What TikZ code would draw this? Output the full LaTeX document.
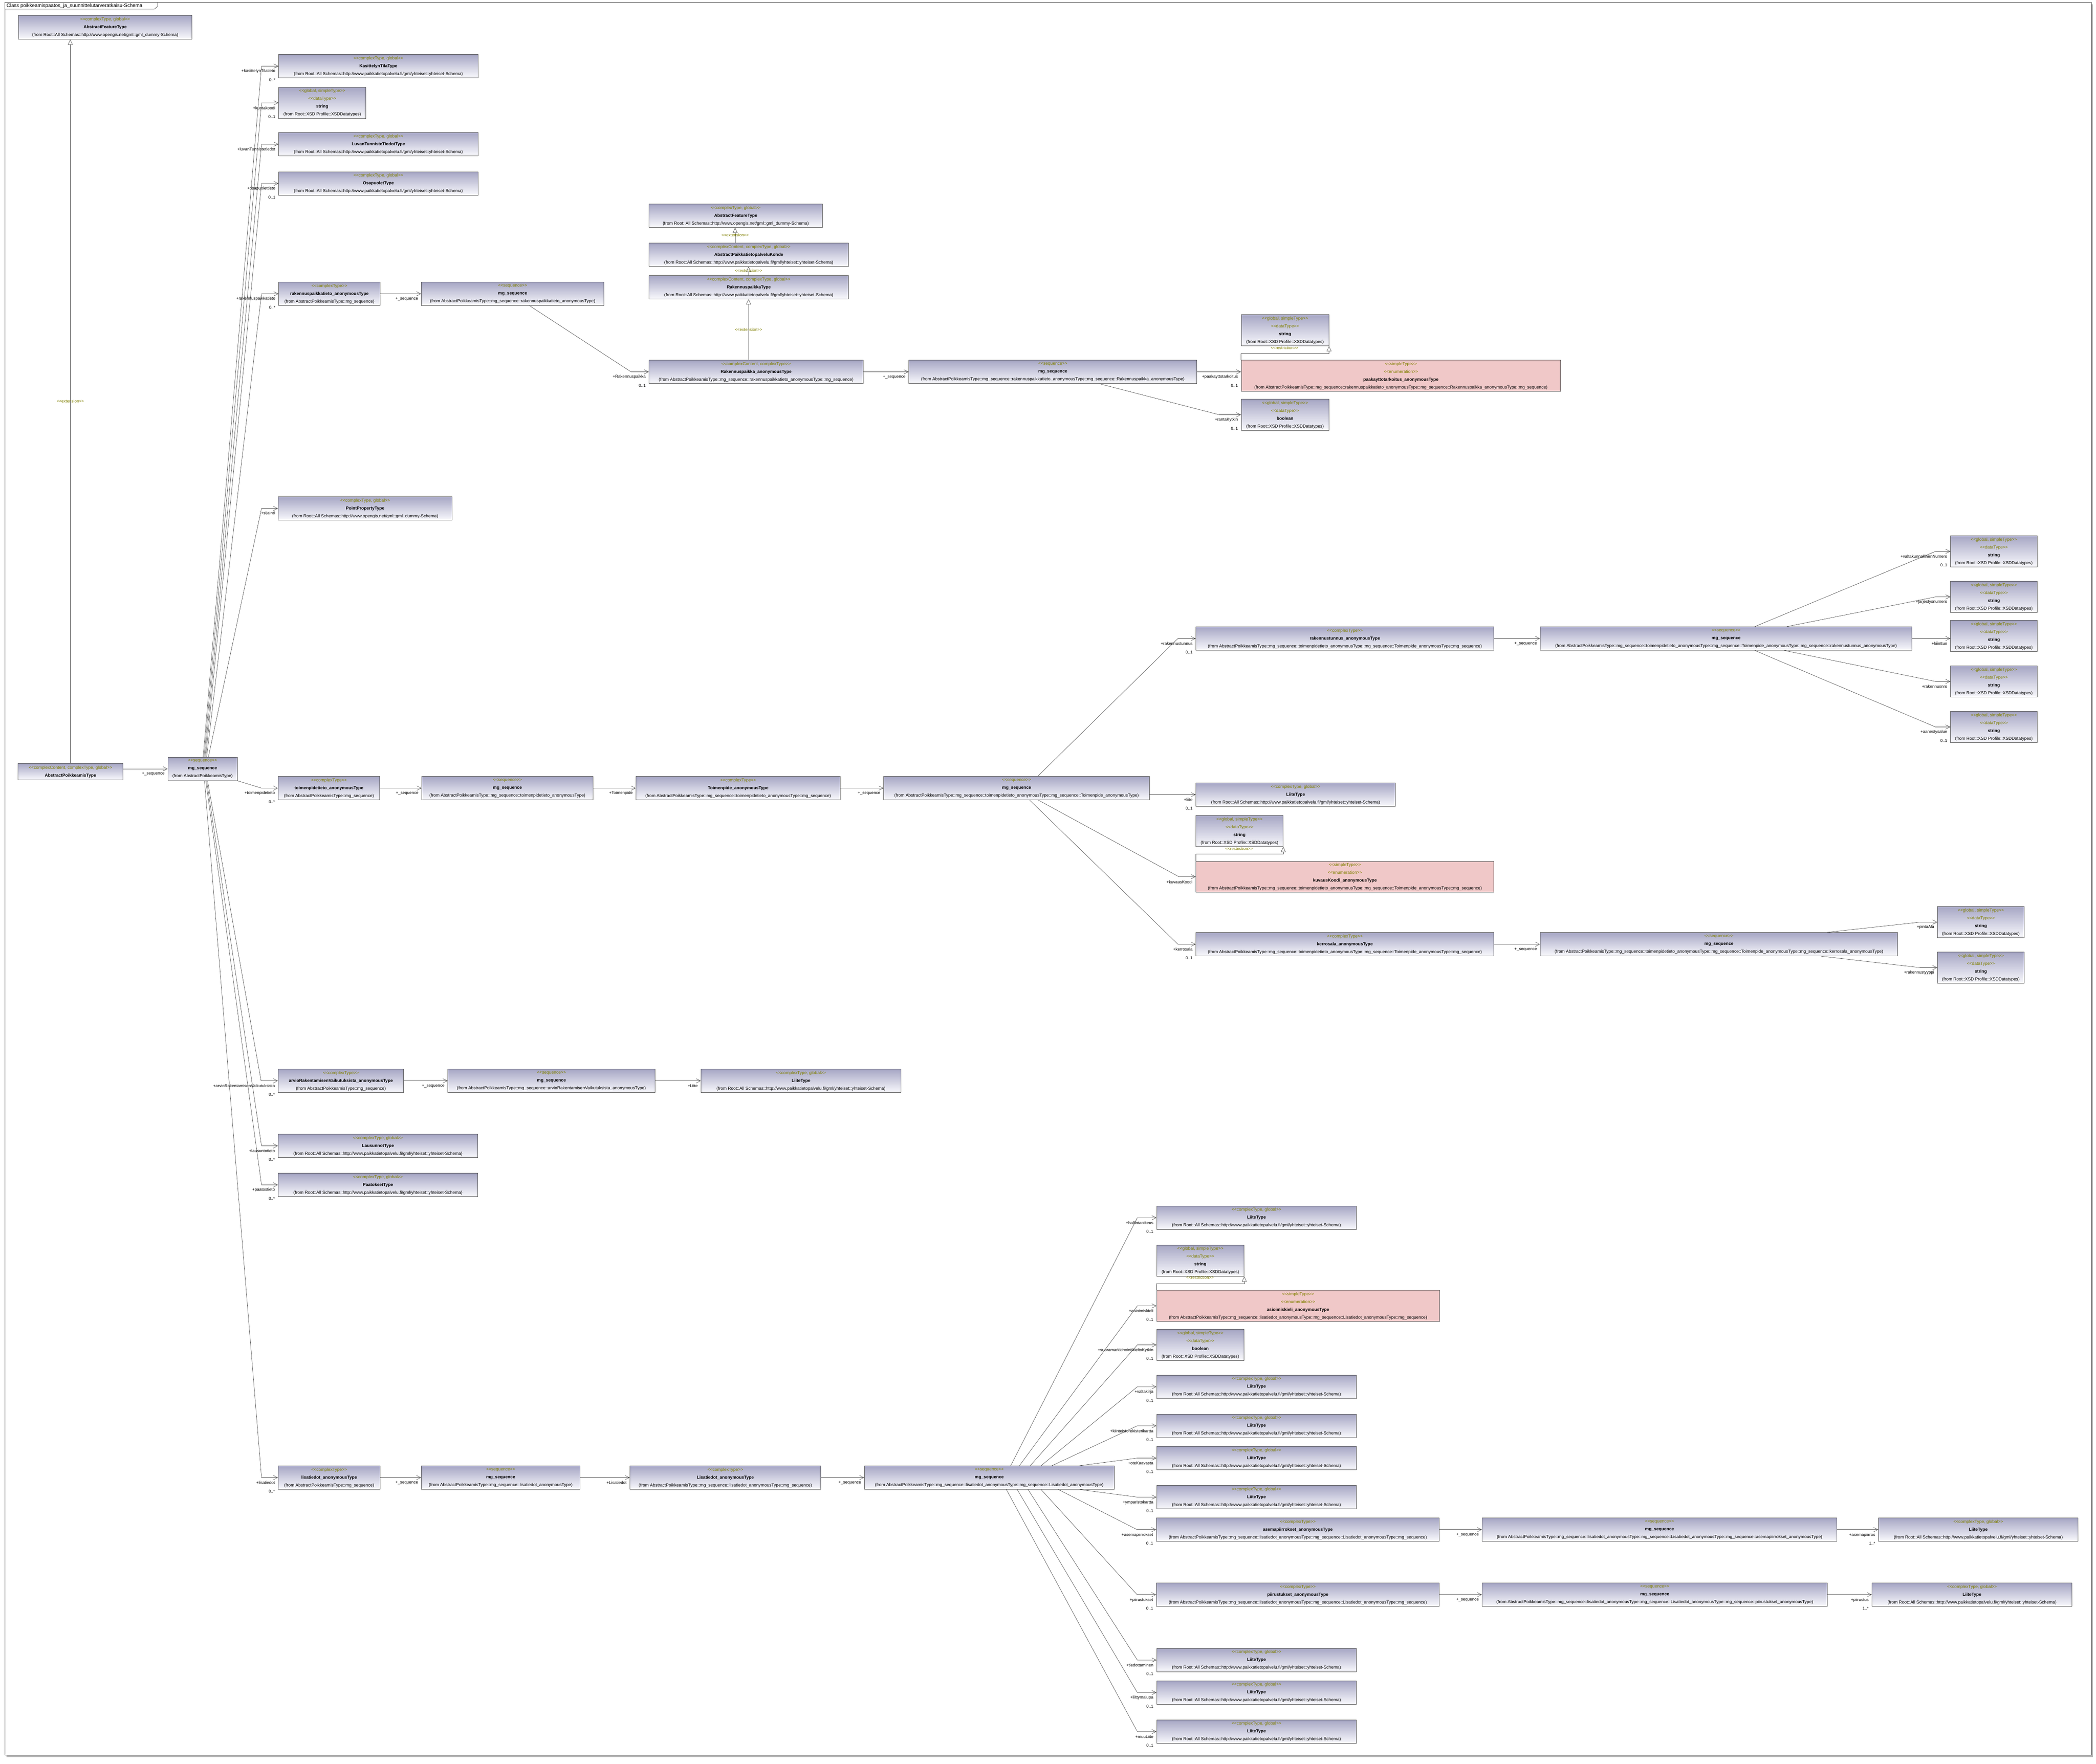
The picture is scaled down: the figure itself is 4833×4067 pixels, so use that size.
\documentclass[tikz,border=0pt]{standalone}
\usepackage{fontspec}
\newfontfamily\uf{Liberation Sans}[Ligatures=TeXOff]
\usetikzlibrary{arrows.meta,calc}
\definecolor{boxtop}{RGB}{166,166,196}
\definecolor{boxbot}{RGB}{249,249,253}
\definecolor{enumfill}{RGB}{240,200,200}
\definecolor{stereo}{RGB}{128,128,0}
\definecolor{bordc}{RGB}{85,85,85}
\definecolor{linec}{RGB}{70,70,70}
\newcommand\ster[1]{\textcolor{stereo}{<\kern0pt<#1>\kern0pt>}}
\newcommand\bname[1]{\textbf{#1}}
\newcommand\fyht{(from Root::All Schemas::http://www.paikkatietopalvelu.fi/gml/yhteiset::yhteiset-Schema)}
\newcommand\fgml{(from Root::All Schemas::http://www.opengis.net/gml::gml\_dummy-Schema)}
\newcommand\fxsd{(from Root::XSD Profile::XSDDatatypes)}
\newcommand\fap{AbstractPoikkeamisType::mg\_sequence}
\newcommand\mkbox[6]{\node[cbox, minimum width=#4pt, minimum height=#5pt] (#1) at (#2,#3) {#6};}
\newcommand\mkenum[6]{\node[ebox, minimum width=#4pt, minimum height=#5pt] (#1) at (#2,#3) {#6};}
\newcommand\liitetxt{\ster{complexType, global}\\\bname{LiiteType}\\\fyht}
\newcommand\strtxt{\ster{global, simpleType}\\\ster{dataType}\\\bname{string}\\\fxsd}
\newcommand\booltxt{\ster{global, simpleType}\\\ster{dataType}\\\bname{boolean}\\\fxsd}
\newcommand\rolelab[3]{\node[role] (#1) at ([shift={(-7pt,-12pt)}]#2) {#3};}
\newcommand\multlab[3]{\node[role] (#1) at ([shift={(-7pt,-32pt)}]#2) {#3};}
\tikzset{
  bx/.style={draw=bordc, line width=1pt, inner sep=0pt, align=center, anchor=north west,
    font=\uf\fontsize{10}{18}\selectfont, text=black},
  cbox/.style={bx, top color=boxtop, bottom color=boxbot},
  ebox/.style={bx, fill=enumfill},
  assoc/.style={draw=linec, line width=0.7pt, -{Straight Barb[length=10pt,width=10pt]}},
  genl/.style={draw=linec, line width=0.7pt, -{Triangle[open,length=12pt,width=11pt,fill=white]}},
  role/.style={font=\uf\fontsize{9.5}{11}\selectfont, inner sep=0pt, anchor=east, text=black},
  stlab/.style={font=\uf\fontsize{9.5}{11}\selectfont, inner sep=0pt, text=stereo},
}
\begin{document}
\begin{tikzpicture}[x=1pt,y=-1pt]
\useasboundingbox (0,0) rectangle (4833,4067);
% frame with shadow
\fill[gray!55] (15,9.5) rectangle (4826,4052);
\draw[fill=white, draw=black!70, line width=1pt] (11,5.5) rectangle (4822,4047);
\draw[fill=white, draw=black!70, line width=0.8pt] (11,5.5) -- (363,5.5) -- (363,15) -- (356,21) -- (11,21) -- cycle;
\node[font=\uf\fontsize{11.5}{13}\selectfont, anchor=west, inner sep=0pt] (title) at (15,13.5) {Class poikkeamispaatos\_ja\_suunnittelutarveratkaisu-Schema};

% ---------- boxes ----------
\mkbox{aft1}{42}{35}{400}{55}{\ster{complexType, global}\\\bname{AbstractFeatureType}\\\fgml}
\mkbox{kas}{642}{125}{460}{54}{\ster{complexType, global}\\\bname{KasittelynTilaType}\\\fyht}
\mkbox{kun}{642}{200.6}{201}{72}{\strtxt}
\mkbox{luv}{642}{305}{460}{54}{\ster{complexType, global}\\\bname{LuvanTunnisteTiedotType}\\\fyht}
\mkbox{osa}{642}{395.5}{460}{54}{\ster{complexType, global}\\\bname{OsapuoletType}\\\fyht}
\mkbox{rpt}{642}{650}{234}{54}{\ster{complexType}\\\bname{rakennuspaikkatieto\_anonymousType}\\(from \fap)}
\mkbox{rptseq}{971}{650}{421}{54}{\ster{sequence}\\\bname{mg\_sequence}\\(from \fap::rakennuspaikkatieto\_anonymousType)}
\mkbox{aft2}{1496}{470}{400}{54}{\ster{complexType, global}\\\bname{AbstractFeatureType}\\\fgml}
\mkbox{apk}{1496}{560}{460}{54}{\ster{complexContent, complexType, global}\\\bname{AbstractPaikkatietopalveluKohde}\\\fyht}
\mkbox{rpty}{1496}{635}{460}{54}{\ster{complexContent, complexType, global}\\\bname{RakennuspaikkaType}\\\fyht}
\mkbox{rpa}{1496}{830}{494}{54}{\ster{complexContent, complexType}\\\bname{Rakennuspaikka\_anonymousType}\\(from \fap::rakennuspaikkatieto\_anonymousType::mg\_sequence)}
\mkbox{rpaseq}{2095}{830}{664}{54}{\ster{sequence}\\\bname{mg\_sequence}\\(from \fap::rakennuspaikkatieto\_anonymousType::mg\_sequence::Rakennuspaikka\_anonymousType)}
\mkbox{strb}{2861.5}{725}{202}{72}{\strtxt}
\mkenum{pak}{2861.5}{830}{736.5}{72}{\ster{simpleType}\\\ster{enumeration}\\\bname{paakayttotarkoitus\_anonymousType}\\(from \fap::rakennuspaikkatieto\_anonymousType::mg\_sequence::Rakennuspaikka\_anonymousType::mg\_sequence)}
\mkbox{boolr}{2861.5}{920}{202}{72}{\booltxt}
\mkbox{ppt}{641}{1145}{401}{54}{\ster{complexType, global}\\\bname{PointPropertyType}\\\fgml}
\mkbox{apt}{41}{1760}{242}{38}{\ster{complexContent, complexType, global}\\\bname{AbstractPoikkeamisType}}
\mkbox{mseq}{386.5}{1745.5}{160}{54}{\ster{sequence}\\\bname{mg\_sequence}\\(from AbstractPoikkeamisType)}
\mkbox{tpt}{641}{1790}{234}{54}{\ster{complexType}\\\bname{toimenpidetieto\_anonymousType}\\(from \fap)}
\mkbox{tptseq}{972}{1790}{395}{54}{\ster{sequence}\\\bname{mg\_sequence}\\(from \fap::toimenpidetieto\_anonymousType)}
\mkbox{tpa}{1466}{1790}{471}{54}{\ster{complexType}\\\bname{Toimenpide\_anonymousType}\\(from \fap::toimenpidetieto\_anonymousType::mg\_sequence)}
\mkbox{tpaseq}{2037}{1790}{613}{54}{\ster{sequence}\\\bname{mg\_sequence}\\(from \fap::toimenpidetieto\_anonymousType::mg\_sequence::Toimenpide\_anonymousType)}
\mkbox{rtu}{2757}{1445}{687}{54}{\ster{complexType}\\\bname{rakennustunnus\_anonymousType}\\(from \fap::toimenpidetieto\_anonymousType::mg\_sequence::Toimenpide\_anonymousType::mg\_sequence)}
\mkbox{rtuseq}{3551}{1445}{857}{54}{\ster{sequence}\\\bname{mg\_sequence}\\(from \fap::toimenpidetieto\_anonymousType::mg\_sequence::Toimenpide\_anonymousType::mg\_sequence::rakennustunnus\_anonymousType)}
\mkbox{sa}{4497}{1235}{200}{72}{\strtxt}
\mkbox{sb}{4497}{1340}{200}{72}{\strtxt}
\mkbox{sc}{4497}{1430}{200}{72}{\strtxt}
\mkbox{sd}{4497}{1535}{200}{72}{\strtxt}
\mkbox{se}{4497}{1640}{200}{72}{\strtxt}
\mkbox{liitea}{2757}{1805}{460}{54}{\liitetxt}
\mkbox{strk}{2757}{1880}{201}{72}{\strtxt}
\mkenum{kuv}{2757}{1985.7}{687}{71}{\ster{simpleType}\\\ster{enumeration}\\\bname{kuvausKoodi\_anonymousType}\\(from \fap::toimenpidetieto\_anonymousType::mg\_sequence::Toimenpide\_anonymousType::mg\_sequence)}
\mkbox{ker}{2757}{2150}{687}{54}{\ster{complexType}\\\bname{kerrosala\_anonymousType}\\(from \fap::toimenpidetieto\_anonymousType::mg\_sequence::Toimenpide\_anonymousType::mg\_sequence)}
\mkbox{kerseq}{3551}{2150}{824}{54}{\ster{sequence}\\\bname{mg\_sequence}\\(from \fap::toimenpidetieto\_anonymousType::mg\_sequence::Toimenpide\_anonymousType::mg\_sequence::kerrosala\_anonymousType)}
\mkbox{spa}{4467}{2090}{200}{72}{\strtxt}
\mkbox{srt}{4467}{2195}{200}{72}{\strtxt}
\mkbox{arv}{641}{2465}{289}{54}{\ster{complexType}\\\bname{arvioRakentamisenVaikutuksista\_anonymousType}\\(from \fap)}
\mkbox{arvseq}{1032}{2465}{478}{54}{\ster{sequence}\\\bname{mg\_sequence}\\(from \fap::arvioRakentamisenVaikutuksista\_anonymousType)}
\mkbox{liiteb}{1616}{2465}{461}{54}{\liitetxt}
\mkbox{lau}{641}{2615}{460}{54}{\ster{complexType, global}\\\bname{LausunnotType}\\\fyht}
\mkbox{paa}{641}{2705}{460}{54}{\ster{complexType, global}\\\bname{PaatoksetType}\\\fyht}
\mkbox{lis}{641}{3380}{235}{54}{\ster{complexType}\\\bname{lisatiedot\_anonymousType}\\(from \fap)}
\mkbox{lisseq}{971}{3380}{366}{54}{\ster{sequence}\\\bname{mg\_sequence}\\(from \fap::lisatiedot\_anonymousType)}
\mkbox{lisa}{1452}{3380}{440}{54}{\ster{complexType}\\\bname{Lisatiedot\_anonymousType}\\(from \fap::lisatiedot\_anonymousType::mg\_sequence)}
\mkbox{lisaseq}{1992.5}{3380}{576}{54}{\ster{sequence}\\\bname{mg\_sequence}\\(from \fap::lisatiedot\_anonymousType::mg\_sequence::Lisatiedot\_anonymousType)}
\mkbox{hal}{2666.5}{2780.7}{460.5}{54}{\liitetxt}
\mkbox{stra}{2666.5}{2870.6}{201.5}{72}{\strtxt}
\mkenum{asi}{2666.5}{2975}{652}{72}{\ster{simpleType}\\\ster{enumeration}\\\bname{asioimiskieli\_anonymousType}\\(from \fap::lisatiedot\_anonymousType::mg\_sequence::Lisatiedot\_anonymousType::mg\_sequence)}
\mkbox{boolb}{2666.5}{3065}{201.5}{72}{\booltxt}
\mkbox{val}{2666.5}{3170.5}{460.5}{54}{\liitetxt}
\mkbox{kii}{2666.5}{3260.5}{460.5}{54}{\liitetxt}
\mkbox{ote}{2666.5}{3335}{460.5}{54}{\liitetxt}
\mkbox{ymp}{2666.5}{3425}{460.5}{54}{\liitetxt}
\mkbox{ase}{2666}{3500}{652}{54}{\ster{complexType}\\\bname{asemapiirrokset\_anonymousType}\\(from \fap::lisatiedot\_anonymousType::mg\_sequence::Lisatiedot\_anonymousType::mg\_sequence)}
\mkbox{aseseq}{3417}{3500}{818}{54}{\ster{sequence}\\\bname{mg\_sequence}\\(from \fap::lisatiedot\_anonymousType::mg\_sequence::Lisatiedot\_anonymousType::mg\_sequence::asemapiirrokset\_anonymousType)}
\mkbox{aseli}{4331}{3500}{460}{54}{\liitetxt}
\mkbox{pii}{2666}{3650}{652}{54}{\ster{complexType}\\\bname{piirustukset\_anonymousType}\\(from \fap::lisatiedot\_anonymousType::mg\_sequence::Lisatiedot\_anonymousType::mg\_sequence)}
\mkbox{piiseq}{3417}{3650}{796}{54}{\ster{sequence}\\\bname{mg\_sequence}\\(from \fap::lisatiedot\_anonymousType::mg\_sequence::Lisatiedot\_anonymousType::mg\_sequence::piirustukset\_anonymousType)}
\mkbox{piili}{4316}{3650}{461}{54}{\liitetxt}
\mkbox{tie}{2666.5}{3800.7}{460.5}{54}{\liitetxt}
\mkbox{lii}{2666.5}{3875.7}{460.5}{54}{\liitetxt}
\mkbox{muu}{2666.5}{3965.7}{460.5}{54}{\liitetxt}

% ---------- generalizations / restrictions ----------
\draw[genl] ([xshift=121pt]apt.north west) -- ([xshift=121pt]apt.north west |- aft1.south);
\node[stlab] (ext1) at (162,925) {\ster{extension}};
\draw[genl] ([xshift=199pt]apk.north west) -- ([xshift=199pt]apk.north west |- aft2.south);
\node[stlab] (ext2) at (1695,542) {\ster{extension}};
\draw[genl] ([xshift=230pt]rpty.north west) -- ([xshift=230pt]rpty.north west |- apk.south);
\node[stlab] (ext3) at (1726,624) {\ster{extension}};
\draw[genl] ([xshift=230pt]rpa.north west) -- ([xshift=230pt]rpa.north west |- rpty.south);
\node[stlab] (ext4) at (1726,760) {\ster{extension}};

\coordinate (rb) at ([yshift=-17pt]strb.south east);
\draw[genl] (pak.north west) |- (rb) -- (strb.south east);
\node[stlab] (res1) at (2962,802) {\ster{restriction}};
\coordinate (rk) at ([yshift=-16pt]strk.south east);
\draw[genl] (kuv.north west) |- (rk) -- (strk.south east);
\node[stlab] (res2) at (2857,1957) {\ster{restriction}};
\coordinate (ra) at ([yshift=-17pt]stra.south east);
\draw[genl] (asi.north west) |- (ra) -- (stra.south east);
\node[stlab] (res3) at (2767,2946) {\ster{restriction}};

% ---------- main fan ----------
\draw[assoc] (apt.east |- mseq.west) -- (mseq.west);
\rolelab{lmseq}{mseq.west}{+\_sequence}
\draw[assoc] ([xshift=82pt]mseq.north west) -- ([xshift=-39pt]kas.west) -- (kas.west);
\rolelab{lkas}{kas.west}{+kasittelynTilatieto}\multlab{mkas}{kas.west}{0..*}
\draw[assoc] ([xshift=84pt]mseq.north west) -- ([xshift=-39pt]kun.west) -- (kun.west);
\rolelab{lkun}{kun.west}{+kuntakoodi}\multlab{mkun}{kun.west}{0..1}
\draw[assoc] ([xshift=86pt]mseq.north west) -- ([xshift=-39pt]luv.west) -- (luv.west);
\rolelab{lluv}{luv.west}{+luvanTunnistetiedot}
\draw[assoc] ([xshift=88pt]mseq.north west) -- ([xshift=-39pt]osa.west) -- (osa.west);
\rolelab{losa}{osa.west}{+osapuolettieto}\multlab{mosa}{osa.west}{0..1}
\draw[assoc] ([xshift=90pt]mseq.north west) -- ([xshift=-39pt]rpt.west) -- (rpt.west);
\rolelab{lrpt}{rpt.west}{+rakennuspaikkatieto}\multlab{mrpt}{rpt.west}{0..*}
\draw[assoc] ([xshift=94pt]mseq.north west) -- ([xshift=-38pt]ppt.west) -- (ppt.west);
\rolelab{lppt}{ppt.west}{+sijainti}
\draw[assoc] (mseq.south east) -- ([xshift=-38pt]tpt.west) -- (tpt.west);
\rolelab{ltpt}{tpt.west}{+toimenpidetieto}\multlab{mtpt}{tpt.west}{0..*}
\draw[assoc] ([xshift=92pt]mseq.south west) -- ([xshift=-39pt]arv.west) -- (arv.west);
\rolelab{larv}{arv.west}{+arvioRakentamisenVaikutuksista}\multlab{marv}{arv.west}{0..*}
\draw[assoc] ([xshift=90pt]mseq.south west) -- ([xshift=-38pt]lau.west) -- (lau.west);
\rolelab{llau}{lau.west}{+lausuntotieto}\multlab{mlau}{lau.west}{0..*}
\draw[assoc] ([xshift=88pt]mseq.south west) -- ([xshift=-38pt]paa.west) -- (paa.west);
\rolelab{lpaa}{paa.west}{+paatostieto}\multlab{mpaa}{paa.west}{0..*}
\draw[assoc] ([xshift=85pt]mseq.south west) -- ([xshift=-38pt]lis.west) -- (lis.west);
\rolelab{llis}{lis.west}{+lisatiedot}\multlab{mlis}{lis.west}{0..*}

% ---------- rakennuspaikka ----------
\draw[assoc] (rpt.east) -- (rptseq.west);
\rolelab{lrptseq}{rptseq.west}{+\_sequence}
\draw[assoc] ([xshift=250pt]rptseq.south west) -- ([xshift=-41pt]rpa.west) -- (rpa.west);
\rolelab{lrpa}{rpa.west}{+Rakennuspaikka}\multlab{mrpa}{rpa.west}{0..1}
\draw[assoc] (rpa.east) -- (rpaseq.west);
\rolelab{lrpaseq}{rpaseq.west}{+\_sequence}
\coordinate (pakin) at (rpaseq.east -| pak.west);
\draw[assoc] (rpaseq.east) -- (pakin);
\rolelab{lpak}{pakin}{+paakayttotarkoitus}\multlab{mpak}{pakin}{0..1}
\draw[assoc] ([xshift=440pt]rpaseq.south west) -- ([xshift=-50pt]boolr.west) -- (boolr.west);
\rolelab{lboolr}{boolr.west}{+rantaKytkin}\multlab{mboolr}{boolr.west}{0..1}

% ---------- toimenpide ----------
\draw[assoc] (tpt.east) -- (tptseq.west);
\rolelab{ltptseq}{tptseq.west}{+\_sequence}
\draw[assoc] (tptseq.east) -- (tpa.west);
\rolelab{ltpa}{tpa.west}{+Toimenpide}
\draw[assoc] (tpa.east) -- (tpaseq.west);
\rolelab{ltpaseq}{tpaseq.west}{+\_sequence}
\draw[assoc] ([xshift=356pt]tpaseq.north west) -- ([xshift=-41pt]rtu.west) -- (rtu.west);
\rolelab{lrtu}{rtu.west}{+rakennustunnus}\multlab{mrtu}{rtu.west}{0..1}
\draw[assoc] (tpaseq.east |- liitea.west) -- (liitea.west);
\rolelab{lliitea}{liitea.west}{+liite}\multlab{mliitea}{liitea.west}{0..1}
\draw[assoc] ([xshift=357pt]tpaseq.south west) -- ([xshift=-39pt]kuv.west) -- (kuv.west);
\rolelab{lkuv}{kuv.west}{+kuvausKoodi}
\draw[assoc] ([xshift=337pt]tpaseq.south west) -- ([xshift=-41pt]ker.west) -- (ker.west);
\rolelab{lker}{ker.west}{+kerrosala}\multlab{mker}{ker.west}{0..1}

\draw[assoc] (rtu.east) -- (rtuseq.west);
\rolelab{lrtuseq}{rtuseq.west}{+\_sequence}
\draw[assoc] ([xshift=495pt]rtuseq.north west) -- ([xshift=-34pt]sa.west) -- (sa.west);
\rolelab{lsa}{sa.west}{+valtakunnallinenNumero}\multlab{msa}{sa.west}{0..1}
\draw[assoc] ([xshift=569pt]rtuseq.north west) -- ([xshift=-34pt]sb.west) -- (sb.west);
\rolelab{lsb}{sb.west}{+jarjestysnumero}
\coordinate (scin) at (rtuseq.east -| sc.west);
\draw[assoc] (rtuseq.east) -- (scin);
\rolelab{lsc}{scin}{+kiinttun}
\draw[assoc] ([xshift=563pt]rtuseq.south west) -- ([xshift=-34pt]sd.west) -- (sd.west);
\rolelab{lsd}{sd.west}{+rakennusnro}
\draw[assoc] ([xshift=495pt]rtuseq.south west) -- ([xshift=-34pt]se.west) -- (se.west);
\rolelab{lse}{se.west}{+aanestysalue}\multlab{mse}{se.west}{0..1}

\draw[assoc] (ker.east) -- (kerseq.west);
\rolelab{lkerseq}{kerseq.west}{+\_sequence}
\draw[assoc] ([xshift=662pt]kerseq.north west) -- ([xshift=-39pt]spa.west) -- (spa.west);
\rolelab{lspa}{spa.west}{+pintaAla}
\draw[assoc] ([xshift=648pt]kerseq.south west) -- ([xshift=-39pt]srt.west) -- (srt.west);
\rolelab{lsrt}{srt.west}{+rakennustyyppi}

% ---------- arvio ----------
\draw[assoc] (arv.east) -- (arvseq.west);
\rolelab{larvseq}{arvseq.west}{+\_sequence}
\draw[assoc] (arvseq.east) -- (liiteb.west);
\rolelab{lliiteb}{liiteb.west}{+Liite}

% ---------- lisatiedot ----------
\draw[assoc] (lis.east) -- (lisseq.west);
\rolelab{llisseq}{lisseq.west}{+\_sequence}
\draw[assoc] (lisseq.east) -- (lisa.west);
\rolelab{llisa}{lisa.west}{+Lisatiedot}
\draw[assoc] (lisa.east) -- (lisaseq.west);
\rolelab{llisaseq}{lisaseq.west}{+\_sequence}

\draw[assoc] ([xshift=338pt]lisaseq.north west) -- ([xshift=-44pt]hal.west) -- (hal.west);
\rolelab{lhal}{hal.west}{+hallintaoikeus}\multlab{mhal}{hal.west}{0..1}
\draw[assoc] ([xshift=358pt]lisaseq.north west) -- ([xshift=-44pt]asi.west) -- (asi.west);
\rolelab{lasi}{asi.west}{+asioimiskieli}\multlab{masi}{asi.west}{0..1}
\draw[assoc] ([xshift=383pt]lisaseq.north west) -- ([xshift=-44pt]boolb.west) -- (boolb.west);
\rolelab{lboolb}{boolb.west}{+suoramarkkinointikieltoKytkin}\multlab{mboolb}{boolb.west}{0..1}
\draw[assoc] ([xshift=408pt]lisaseq.north west) -- ([xshift=-44pt]val.west) -- (val.west);
\rolelab{lval}{val.west}{+valtakirja}\multlab{mval}{val.west}{0..1}
\draw[assoc] ([xshift=433pt]lisaseq.north west) -- ([xshift=-44pt]kii.west) -- (kii.west);
\rolelab{lkii}{kii.west}{+kiinteistorekisterikartta}\multlab{mkii}{kii.west}{0..1}
\draw[assoc] ([xshift=497pt]lisaseq.north west) -- ([xshift=-44pt]ote.west) -- (ote.west);
\rolelab{lote}{ote.west}{+oteKaavasta}\multlab{mote}{ote.west}{0..1}
\draw[assoc] ([xshift=497pt]lisaseq.south west) -- ([xshift=-44pt]ymp.west) -- (ymp.west);
\rolelab{lymp}{ymp.west}{+ymparistokartta}\multlab{mymp}{ymp.west}{0..1}
\draw[assoc] ([xshift=448pt]lisaseq.south west) -- ([xshift=-44pt]ase.west) -- (ase.west);
\rolelab{lase}{ase.west}{+asemapiirrokset}\multlab{mase}{ase.west}{0..1}
\draw[assoc] ([xshift=408pt]lisaseq.south west) -- ([xshift=-44pt]pii.west) -- (pii.west);
\rolelab{lpii}{pii.west}{+piirustukset}\multlab{mpii}{pii.west}{0..1}
\draw[assoc] ([xshift=378pt]lisaseq.south west) -- ([xshift=-44pt]tie.west) -- (tie.west);
\rolelab{ltie}{tie.west}{+tiedottaminen}\multlab{mtie}{tie.west}{0..1}
\draw[assoc] ([xshift=353pt]lisaseq.south west) -- ([xshift=-44pt]lii.west) -- (lii.west);
\rolelab{llii}{lii.west}{+liittymalupa}\multlab{mlii}{lii.west}{0..1}
\draw[assoc] ([xshift=328pt]lisaseq.south west) -- ([xshift=-44pt]muu.west) -- (muu.west);
\rolelab{lmuu}{muu.west}{+muuLiite}\multlab{mmuu}{muu.west}{0..1}

\draw[assoc] (ase.east) -- (aseseq.west);
\rolelab{laseseq}{aseseq.west}{+\_sequence}
\draw[assoc] (aseseq.east) -- (aseli.west);
\rolelab{laseli}{aseli.west}{+asemapiirros}\multlab{maseli}{aseli.west}{1..*}
\draw[assoc] (pii.east) -- (piiseq.west);
\rolelab{lpiiseq}{piiseq.west}{+\_sequence}
\draw[assoc] (piiseq.east) -- (piili.west);
\rolelab{lpiili}{piili.west}{+piirustus}\multlab{mpiili}{piili.west}{1..*}
\end{tikzpicture}
\end{document}
